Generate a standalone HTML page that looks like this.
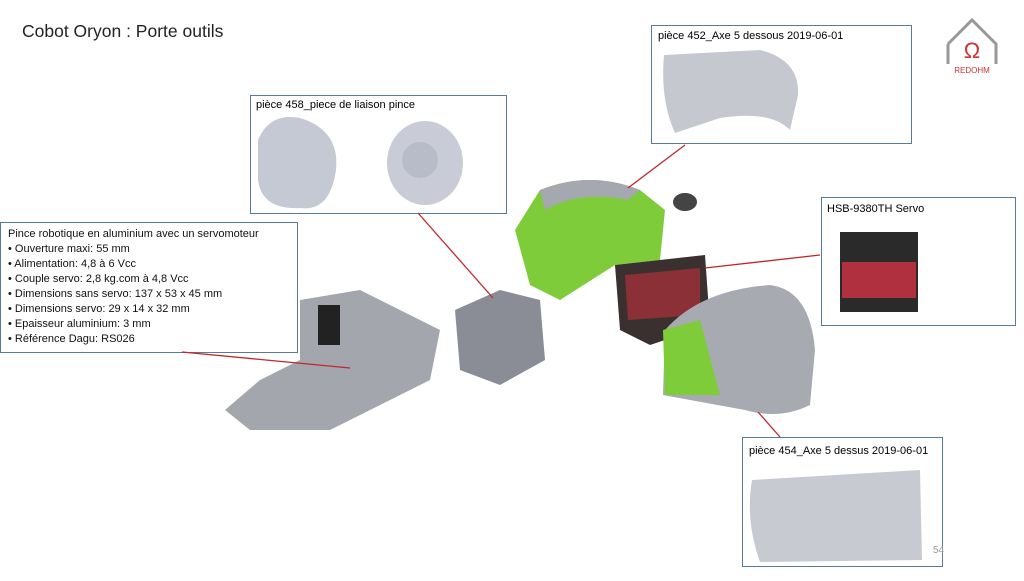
<!DOCTYPE html><html><head><style>body{margin:0;background:#fff;font-family:"Liberation Sans",sans-serif}</style></head><body>
<svg width="1024" height="576" viewBox="0 0 1024 576" xmlns="http://www.w3.org/2000/svg" font-family="Liberation Sans, sans-serif">
<rect width="1024" height="576" fill="#fff"/>
<text x="22" y="37" font-size="17.5" fill="#222">Cobot Oryon : Porte outils</text>
<path d="M948 44 L972 20 L996 44 L996 64 M948 44 L948 64" stroke="#999" stroke-width="3" fill="none"/>
<text x="972" y="58" font-size="22" fill="#c33" text-anchor="middle">Ω</text>
<text x="972" y="73" font-size="8" fill="#c33" text-anchor="middle">REDOHM</text>
<rect x="250.5" y="95.5" width="256" height="118" fill="#fff" stroke="#5a7a9a"/>
<text x="256" y="108" font-size="11">pièce 458_piece de liaison pince</text>
<path d="M258 140 Q270 112 300 118 Q340 130 336 170 Q330 212 300 208 Q262 210 258 180Z" fill="#c5c9d4"/>
<ellipse cx="425" cy="163" rx="38" ry="42" fill="#c9ccd6"/><circle cx="420" cy="160" r="18" fill="#b8bcc8"/>
<rect x="651.5" y="25.5" width="260" height="118" fill="#fff" stroke="#5a7a9a"/>
<text x="658" y="39" font-size="11">pièce 452_Axe 5 dessous 2019-06-01</text>
<path d="M664 55 L760 50 Q800 60 798 95 L790 130 Q770 110 720 118 L675 133 Q660 100 664 55Z" fill="#c6c8d0"/>
<rect x="821.5" y="197.5" width="194" height="128" fill="#fff" stroke="#5a7a9a"/>
<text x="827" y="212" font-size="11">HSB-9380TH Servo</text>
<rect x="840" y="232" width="78" height="80" fill="#2a2a2a"/><rect x="842" y="262" width="74" height="36" fill="#b03040"/>
<rect x="742.5" y="437.5" width="200" height="129" fill="#fff" stroke="#5a7a9a"/>
<text x="749" y="454" font-size="11">pièce 454_Axe 5 dessus 2019-06-01</text>
<path d="M752 480 L920 470 L922 560 L760 562 Q745 520 752 480Z" fill="#c8cad2"/>
<rect x="0.5" y="222.5" width="297" height="130" fill="#fff" stroke="#5a7a9a"/>
<g font-size="11" fill="#111">
<text x="8" y="237">Pince robotique  en aluminium avec un servomoteur</text>
<text x="8" y="252">•   Ouverture maxi: 55 mm</text>
<text x="8" y="267">•   Alimentation: 4,8 à 6 Vcc</text>
<text x="8" y="282">•   Couple servo: 2,8 kg.com à 4,8 Vcc</text>
<text x="8" y="297">•   Dimensions sans servo: 137 x 53 x 45 mm</text>
<text x="8" y="312">•   Dimensions servo: 29 x 14 x 32 mm</text>
<text x="8" y="327">•   Epaisseur aluminium: 3 mm</text>
<text x="8" y="342">•   Référence Dagu: RS026</text>
</g>
<path d="M300 300 L360 290 L440 330 L430 380 L330 430 L250 430 L225 410 L260 380 L300 360Z" fill="#a4a6ae"/>
<rect x="318" y="305" width="22" height="40" fill="#222"/>
<path d="M455 310 L500 290 L540 300 L545 360 L500 385 L460 370Z" fill="#8a8c96"/>
<path d="M540 190 Q590 170 640 190 L665 210 L660 260 L615 265 L560 300 L530 285 L515 230Z" fill="#7fcc3a"/>
<path d="M540 190 Q590 170 640 190 L628 200 Q580 190 545 210Z" fill="#a6a8b0"/>
<ellipse cx="685" cy="202" rx="12" ry="9" fill="#444"/>
<path d="M615 265 L705 255 L710 325 L650 345 L620 330Z" fill="#3a3030"/>
<path d="M625 275 L700 268 L700 315 L628 320Z" fill="#8a3036"/>
<path d="M665 330 Q700 290 770 285 Q810 290 815 350 L810 405 Q780 420 745 410 L690 400 L663 395Z" fill="#a8aab2"/>
<path d="M663 330 L700 320 L720 395 L665 395Z" fill="#7fcc3a"/>
<g stroke="#c0282a" stroke-width="1.3">
<line x1="685" y1="145" x2="628" y2="188"/><line x1="418" y1="213" x2="493" y2="298"/>
<line x1="820" y1="255" x2="705" y2="268"/><line x1="182" y1="352" x2="350" y2="368"/>
<line x1="780" y1="437" x2="758" y2="412"/>
</g>
<text x="933" y="553" font-size="10" fill="#999">54</text>
</svg></body></html>
